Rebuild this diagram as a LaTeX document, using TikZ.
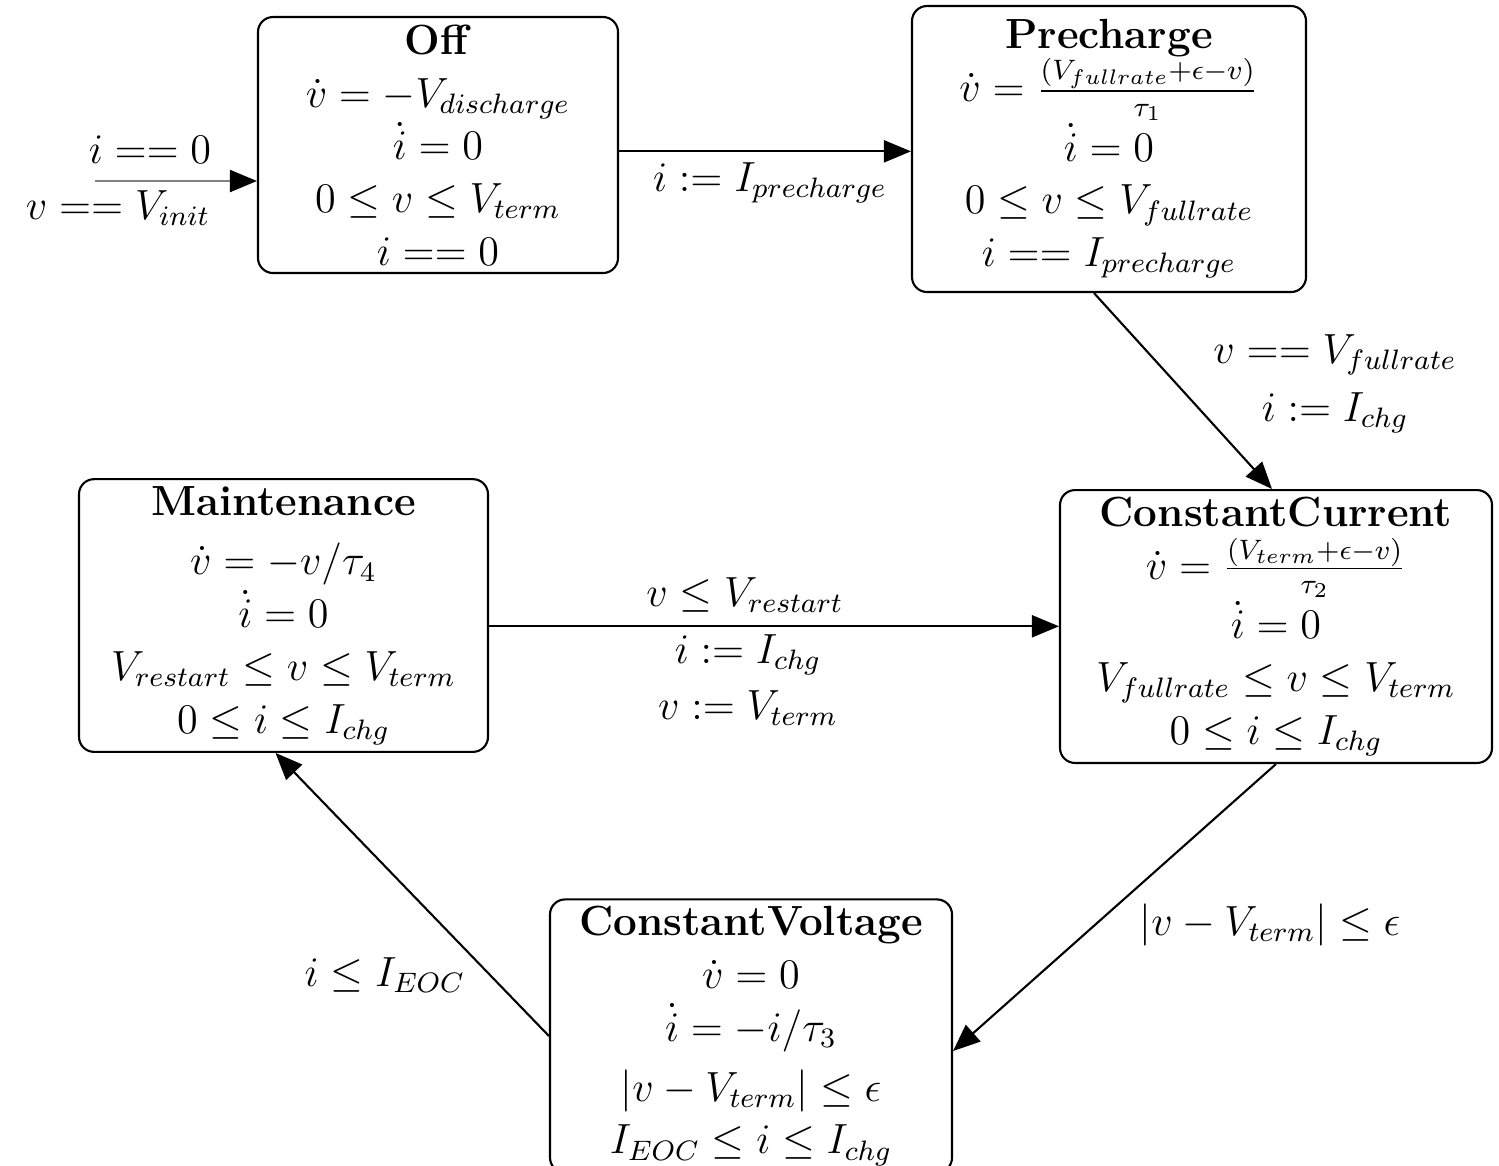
\documentclass[tikz,border=0pt]{standalone}
\usetikzlibrary{arrows.meta}
\begin{document}
\begin{tikzpicture}[
  state/.style={draw,rounded corners=0.15cm,line width=0.6pt,align=center,inner sep=2pt,font=\fontsize{12}{15}\selectfont},
  trans/.style={line width=0.6pt,-{Triangle[length=0.27cm,width=0.22cm,black]}},
  lbl/.style={font=\fontsize{12}{14}\selectfont,inner sep=1pt}]
\useasboundingbox (0,0) rectangle (14.99,-11.65);
% states
\node[state,minimum width=3.6cm,minimum height=2.56cm] (off) at (4.38,-1.45)
  {\textbf{Off}\\ $\dot{v} = -V_{discharge}$\\ $\dot{i} = 0$\\ $0 \leq v \leq V_{term}$\\ $i == 0$};
\node[state,minimum width=3.94cm,minimum height=2.86cm] (pre) at (11.09,-1.49)
  {\textbf{Precharge}\\ $\dot{v} = \frac{(V_{fullrate}+\epsilon-v)}{\tau_1}$\\ $\dot{i} = 0$\\ $0 \leq v \leq V_{fullrate}$\\ $i == I_{precharge}$};
\node[state,minimum width=4.32cm,minimum height=2.65cm] (cc) at (12.76,-6.265)
  {\textbf{ConstantCurrent}\\ $\dot{v} = \frac{(V_{term}+\epsilon-v)}{\tau_2}$\\ $\dot{i} = 0$\\ $V_{fullrate} \leq v \leq V_{term}$\\ $0 \leq i \leq I_{chg}$};
\node[state,minimum width=4.09cm,minimum height=2.71cm] (mnt) at (2.835,-6.155)
  {\textbf{Maintenance}\\[2pt] $\dot{v} = -v/\tau_4$\\ $\dot{i} = 0$\\ $V_{restart} \leq v \leq V_{term}$\\ $0 \leq i \leq I_{chg}$};
\node[state,minimum width=4.02cm,minimum height=2.68cm] (cv) at (7.51,-10.36)
  {\textbf{ConstantVoltage}\\ $\dot{v} = 0$\\ $\dot{i} = -i/\tau_3$\\[2pt] $|v - V_{term}| \leq \epsilon$\\ $I_{EOC} \leq i \leq I_{chg}$};
% transitions
\coordinate (init) at (0.95,-1.81);
\draw[trans,draw=gray] (init) -- (init -| off.west);
\node[lbl] (l0a) at (1.50,-1.50) {$i == 0$};
\node[lbl] (l0b) at (1.18,-2.08) {$v == V_{init}$};
\draw[trans] (off.-2.2) -- (off.-2.2 -| pre.west);
\node[lbl] (l1) at (7.70,-1.83) {$i := I_{precharge}$};
\draw[trans] ([xshift=-0.15cm]pre.south) -- ([xshift=-0.04cm]cc.north);
\node[lbl] (l2a) at (13.35,-3.55) {$v == V_{fullrate}$};
\node[lbl] (l2b) at (13.35,-4.13) {$i := I_{chg}$};
\draw[trans] (mnt.-3.2) -- (mnt.-3.2 -| cc.west);
\node[lbl] (l3a) at (7.45,-5.95) {$v \leq V_{restart}$};
\node[lbl] (l3b) at (7.48,-6.55) {$i := I_{chg}$};
\node[lbl] (l3c) at (7.48,-7.08) {$v := V_{term}$};
\draw[trans] (cc.south) -- ([yshift=-0.15cm]cv.east);
\node[lbl] (l4) at (12.70,-9.25) {$|v - V_{term}| \leq \epsilon$};
\draw[trans] (cv.west) -- ([xshift=-0.08cm]mnt.south);
\node[lbl] (l5) at (3.85,-9.75) {$i \leq I_{EOC}$};
\end{tikzpicture}
\end{document}
